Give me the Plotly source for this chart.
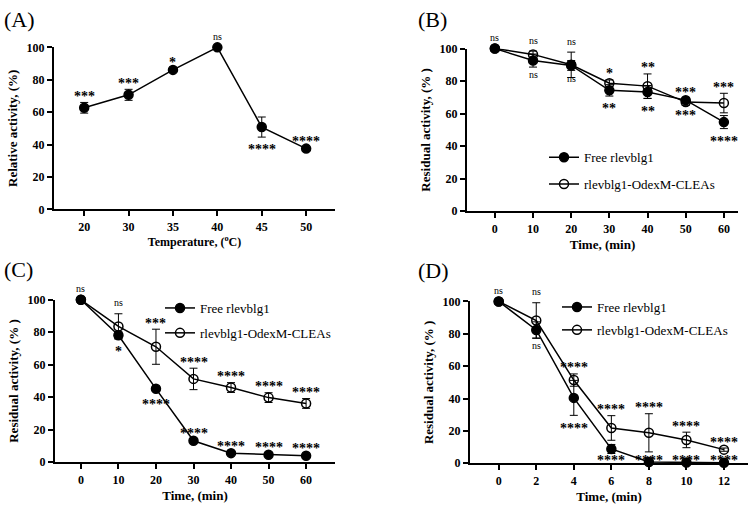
import plotly.graph_objects as go

FONT = "Liberation Serif, Times New Roman, serif"

# ---------------- data ----------------
# Panel A: temperature profile
temp_labels = ["20", "30", "35", "40", "45", "50"]
a_act = [62.7, 70.7, 86.1, 100, 50.8, 37.5]
a_err = [3.3, 3.4, 1.0, 0, 6.2, 0.8]
a_sig = ["***", "***", "*", "ns", "****", "****"]
a_pos = ["above", "above", "above", "above", "below", "above"]

# Panel B
b_time = [0, 10, 20, 30, 40, 50, 60]
b_free = [100, 92.6, 89.6, 74.3, 73.3, 68.3, 54.8]
b_free_err = [0, 4.0, 3.0, 3.5, 4.0, 1.5, 4.0]
b_clea = [100, 96.4, 90.0, 78.7, 76.9, 67.1, 66.5]
b_clea_err = [0, 2.0, 7.8, 2.0, 7.5, 2.0, 6.0]
b_free_sig = ["", "ns", "ns", "**", "**", "***", "****"]
b_free_pos = ["below"] * 7
b_clea_sig = ["ns", "ns", "ns", "*", "**", "***", "***"]
b_clea_pos = ["above"] * 7

# Panel C
c_time = [0, 10, 20, 30, 40, 50, 60]
c_free = [100, 78.2, 45.2, 13.2, 5.6, 4.6, 4.0]
c_free_err = [0, 2.0, 1.5, 0.8, 0.5, 0.5, 0.5]
c_clea = [100, 83.6, 71.1, 51.3, 46.0, 39.8, 36.2]
c_clea_err = [0, 7.8, 10.8, 6.6, 3.0, 3.0, 3.0]
c_free_sig = ["", "*", "****", "****", "****", "****", "****"]
c_free_pos = ["below", "below", "below", "above", "above", "above", "above"]
c_clea_sig = ["ns", "ns", "***", "****", "****", "****", "****"]
c_clea_pos = ["above"] * 7

# Panel D
d_time = [0, 2, 4, 6, 8, 10, 12]
d_free = [100, 82.4, 40.4, 8.8, 0.8, 0.4, 0.3]
d_free_err = [0, 5.0, 10.8, 2.8, 1.0, 0.5, 0.3]
d_clea = [100, 88.2, 51.4, 21.8, 18.8, 14.4, 8.4]
d_clea_err = [0, 11.0, 3.8, 7.6, 11.8, 4.8, 1.0]
d_free_sig = ["", "ns", "****", "****", "****", "****", "****"]
d_free_pos = ["below"] * 7
d_clea_sig = ["ns", "ns", "****", "****", "****", "****", "****"]
d_clea_pos = ["above"] * 7

name_free = "Free rlevblg1"
name_clea = "rlevblg1-OdexM-CLEAs"

# ---------------- figure ----------------
W, H = 752, 514
fig = go.Figure()

panels = {
    # key: (x domain px, y domain px (top, bottom), xrange)
    "A": ((54, 335), (41.5, 208), [-0.68, 5.65]),
    "B": ((467, 738), (42.7, 210), [-7.3, 63.7]),
    "C": ((55, 335), (301, 468), [-6.9, 67.7]),
    "D": ((470, 748), (302.7, 469), [-1.53, 13.28]),
}
axis_ids = {"A": ("x", "y"), "B": ("x2", "y2"), "C": ("x3", "y3"), "D": ("x4", "y4")}
legend_ids = {"B": "legend", "C": "legend2", "D": "legend3"}

err_style = dict(type="data", visible=True, thickness=1, width=4, color="black")


def add_series(panel, x, y, err, name, filled, show):
    xa, ya = axis_ids[panel]
    fig.add_trace(go.Scatter(
        x=x, y=y, name=name, mode="lines+markers",
        xaxis=xa, yaxis=ya,
        line=dict(color="black", width=1.5),
        marker=dict(symbol="circle" if filled else "circle-open", size=9,
                    color="black", line=dict(color="black", width=1.5)),
        error_y=dict(array=err, **err_style),
        cliponaxis=False,
        showlegend=show,
        legend=legend_ids.get(panel, "legend"),
        legendgroup=panel + name,
    ))


def add_sig(panel, x, y, err, sig, pos, categorical=False):
    xa, ya = axis_ids[panel]
    top, bot = panels[panel][1]
    ppu = (bot - top) / 100.0
    for i, (xi, yi, ei, s, p) in enumerate(zip(x, y, err, sig, pos)):
        if not s:
            continue
        is_ns = s == "ns"
        font = dict(family=FONT, size=10 if is_ns else 14, color="black",
                    weight="normal" if is_ns else "bold")
        corr = 1 if is_ns else -4
        if p == "above":
            ya_ = yi + ei
            shift = 10 + corr
        else:
            ya_ = max(yi - ei - 9 / ppu, 4)
            shift = corr
        fig.add_annotation(x=i if categorical else xi, y=ya_, xref=xa, yref=ya, text=s,
                           showarrow=False, yanchor="middle", xanchor="center",
                           yshift=shift, font=font)


# Panel A
add_series("A", temp_labels, a_act, a_err, "A", True, False)
add_sig("A", temp_labels, a_act, a_err, a_sig, a_pos, categorical=True)
# Panel B
add_series("B", b_time, b_free, b_free_err, name_free, True, True)
add_series("B", b_time, b_clea, b_clea_err, name_clea, False, True)
add_sig("B", b_time, b_free, b_free_err, b_free_sig, b_free_pos)
add_sig("B", b_time, b_clea, b_clea_err, b_clea_sig, b_clea_pos)
# Panel C
add_series("C", c_time, c_free, c_free_err, name_free, True, True)
add_series("C", c_time, c_clea, c_clea_err, name_clea, False, True)
add_sig("C", c_time, c_free, c_free_err, c_free_sig, c_free_pos)
add_sig("C", c_time, c_clea, c_clea_err, c_clea_sig, c_clea_pos)
# Panel D
add_series("D", d_time, d_free, d_free_err, name_free, True, True)
add_series("D", d_time, d_clea, d_clea_err, name_clea, False, True)
add_sig("D", d_time, d_free, d_free_err, d_free_sig, d_free_pos)
add_sig("D", d_time, d_clea, d_clea_err, d_clea_sig, d_clea_pos)

tick_font = dict(family=FONT, size=12, color="black", weight="bold")
axis_common = dict(showline=True, linewidth=2, linecolor="black", ticks="outside",
                   ticklen=5, tickwidth=2, tickcolor="black", showgrid=False,
                   zeroline=False, tickfont=tick_font)

x_titles = {"A": "Temperature, (<sup>o</sup>C)", "B": "Time, (min)", "C": "Time, (min)",
            "D": "Time, (min)"}
x_title_size = {"A": 12, "B": 13, "C": 13, "D": 13}
y_titles = {"A": "Relative activity, (%)", "B": "Residual activity, (% )",
            "C": "Residual activity, (% )", "D": "Residual activity, (% )"}
x_ticks = {"B": b_time, "C": c_time, "D": d_time}

layout_axes = {}
for i, key in enumerate(["A", "B", "C", "D"]):
    (x0, x1), (ytop, ybot), xr = panels[key]
    suffix = "" if i == 0 else str(i + 1)
    xt_font = dict(family=FONT, size=x_title_size[key], color="black", weight="bold")
    yt_font = dict(family=FONT, size=13, color="black", weight="bold")
    xa = dict(domain=[x0 / W, x1 / W], range=xr, anchor="y" + suffix,
              title=dict(text=x_titles[key], font=xt_font, standoff=5), **axis_common)
    if key == "A":
        xa["type"] = "category"
    else:
        xa["tickvals"] = x_ticks[key]
    ya = dict(domain=[1 - ybot / H, 1 - ytop / H], range=[0, 100], anchor="x" + suffix,
              tickvals=[0, 20, 40, 60, 80, 100],
              title=dict(text=y_titles[key], font=yt_font, standoff=6), **axis_common)
    layout_axes["xaxis" + suffix] = xa
    layout_axes["yaxis" + suffix] = ya

fig.update_layout(**layout_axes)

leg_font = dict(family=FONT, size=13, color="black")
leg_common = dict(font=leg_font, bgcolor="rgba(0,0,0,0)", borderwidth=0,
                  xanchor="left", yanchor="top", traceorder="grouped")
fig.update_layout(
    legend=dict(x=544 / W, y=1 - 139 / H, tracegroupgap=7, **leg_common),
    legend2=dict(x=160 / W, y=1 - 294 / H, tracegroupgap=5, **leg_common),
    legend3=dict(x=557 / W, y=1 - 293 / H, tracegroupgap=3, **leg_common),
)

# panel labels
for lbl, (px, py) in {"(A)": (2, 13), "(B)": (416, 13), "(C)": (2, 270), "(D)": (416, 271)}.items():
    fig.add_annotation(x=px / W, y=1 - py / H, xref="paper", yref="paper", text=lbl,
                       showarrow=False, xanchor="left", yanchor="middle",
                       font=dict(family=FONT, size=22, color="black"))

fig.update_layout(width=W, height=H, margin=dict(l=0, r=0, t=0, b=0),
                  plot_bgcolor="white", paper_bgcolor="white")

fig.write_html("out.html")
